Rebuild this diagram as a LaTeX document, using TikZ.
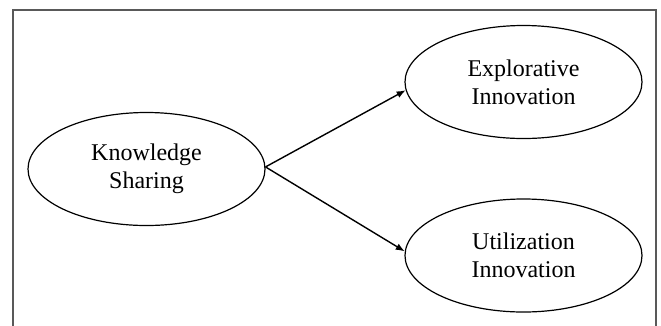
\documentclass[tikz,border=0pt]{standalone}
\usepackage{fontspec}
\setmainfont{Liberation Serif}
\usetikzlibrary{shapes.geometric,arrows.meta}
\begin{document}
\begin{tikzpicture}[x=1pt,y=-1pt,
  oval/.style={ellipse,draw=black,line width=1.2pt,minimum width=237pt,minimum height=113pt,inner sep=0pt,align=center,font=\fontsize{24}{28}\selectfont},
  conn/.style={line width=1.4pt,-{Latex[length=9pt,width=7pt]}},
  frame/.style={draw=black!65,line width=1.2pt}]
\useasboundingbox (0,0) rectangle (661,325);
\fill[white] (0,0) rectangle (661,325);
\coordinate (bl) at (13,326);
\coordinate (tl) at (13,10);
\coordinate (tr) at (656,10);
\coordinate (br) at (656,326);
\draw[frame] (bl) -- (tl) -- (tr) -- (br);
\node[oval] (ks) at (146.5,169) {Knowledge\\Sharing};
\node[oval] (ex) at (523.5,82) {Explorative\\Innovation};
\node[oval] (ut) at (523.5,255.5) {Utilization\\Innovation};
\draw[conn] (ks.1.5) -- (ex.184);
\draw[conn] (ks.1.5) -- (ut.178.5);
\end{tikzpicture}
\end{document}
